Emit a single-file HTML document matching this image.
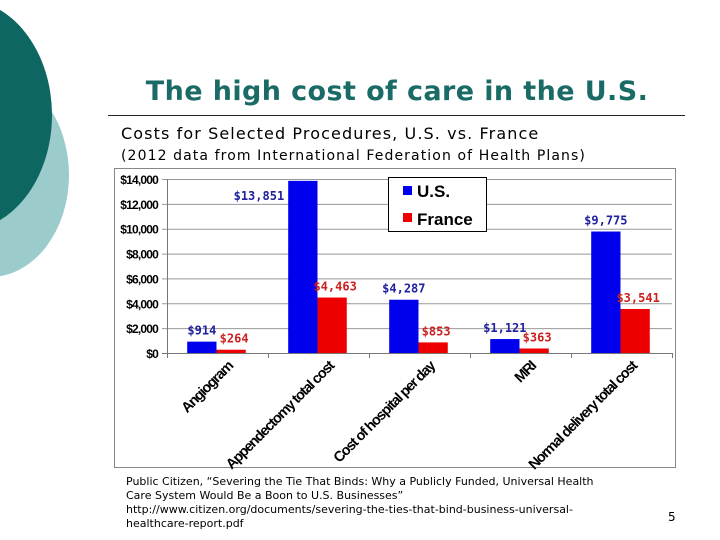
<!DOCTYPE html>
<html><head><meta charset="utf-8"><style>
html,body{margin:0;padding:0;background:#fff;}
svg{display:block;}
</style></head><body>
<svg width="720" height="540" xmlns="http://www.w3.org/2000/svg" font-family="Liberation Sans, sans-serif" id="root">
<ellipse cx="-10" cy="175" rx="79" ry="102" fill="#9ccbcc"/>
<ellipse cx="-38" cy="115" rx="90" ry="116" fill="#0e6663"/>
<text x="397" y="100" text-anchor="middle" font-family="DejaVu Sans, sans-serif" font-weight="bold" font-size="27" fill="#1a6a66" letter-spacing="0.4">The high cost of care in the U.S.</text>
<line x1="108" y1="115.5" x2="685" y2="115.5" stroke="#222" stroke-width="1"/>
<text x="121" y="139" font-family="DejaVu Sans, sans-serif" font-size="16" fill="#000" letter-spacing="1.1">Costs for Selected Procedures, U.S. vs. France</text>
<text x="121" y="160" font-family="DejaVu Sans, sans-serif" font-size="14" fill="#000" letter-spacing="1.1">(2012 data from International Federation of Health Plans)</text>
<rect x="114.5" y="168.5" width="561" height="299" fill="#fff" stroke="#888" stroke-width="1"/>
<g id="chart"></g>
<g>
<rect x="388.5" y="177.5" width="98" height="54" fill="#fff" stroke="#000"/>
<rect x="403" y="186" width="9" height="9" fill="#0000ee"/>
<text x="417" y="197" font-size="17" font-weight="bold" fill="#000">U.S.</text>
<rect x="403" y="213" width="9" height="9" fill="#ee0000"/>
<text x="417" y="225" font-size="17" font-weight="bold" fill="#000">France</text>
</g>
<g font-family="DejaVu Sans, sans-serif" font-size="11" fill="#000">
<text x="126" y="485">Public Citizen, “Severing the Tie That Binds: Why a Publicly Funded, Universal Health</text>
<text x="126" y="499">Care System Would Be a Boon to U.S. Businesses”</text>
<text x="126" y="513">http://www.citizen.org/documents/severing-the-ties-that-bind-business-universal-</text>
<text x="126" y="527">healthcare-report.pdf</text>
</g>
<text x="668" y="521" font-family="DejaVu Sans, sans-serif" font-size="12" fill="#000">5</text>
</svg>
<script>
const categories=["Angiogram","Appendectomy total cost","Cost of hospital per day","MRI","Normal delivery total cost"];
const usValues=[914,13851,4287,1121,9775];
const franceValues=[264,4463,853,363,3541];
const tickValues=[0,2000,4000,6000,8000,10000,12000,14000];
const tickLabels=["$0","$2,000","$4,000","$6,000","$8,000","$10,000","$12,000","$14,000"];
const usLabels=["$914","$13,851","$4,287","$1,121","$9,775"];
const frLabels=["$264","$4,463","$853","$363","$3,541"];
const NS="http://www.w3.org/2000/svg";
const g=document.getElementById('chart');
const X0=167,X1=672,Y0=353,Y1=179,VMAX=14000;
const cw=(X1-X0)/categories.length;
function y(v){return Y0-(v/VMAX)*(Y0-Y1);}
function x(i){return X0+i*cw;}
function el(t,a){const e=document.createElementNS(NS,t);for(const k in a)e.setAttribute(k,a[k]);g.appendChild(e);return e;}
tickValues.forEach((v,i)=>{
  const l=el('line',{x1:X0-5,x2:X1,y1:y(v)+.5,y2:y(v)+.5,stroke:i==0?'#777':'#999','stroke-width':1});
  
  
  const t=el('text',{x:X0-9,y:y(v)+5,'text-anchor':'end','font-size':12,'font-weight':'bold',fill:'#000','letter-spacing':'-0.8'});
  t.textContent=tickLabels[i];
  
  
});
const ax=el('line',{x1:X0+.5,x2:X0+.5,y1:Y1,y2:Y0+5,stroke:'#777'});


const bw=cw*0.29,off=cw*0.2;
categories.forEach((c,i)=>{
  const tk=el('line',{x1:x(i+1)+.5,x2:x(i+1)+.5,y1:Y0,y2:Y0+5,stroke:'#777'});
  
  
  const bu=el('rect',{x:x(i)+off,y:y(usValues[i]),width:bw,height:Y0-y(usValues[i]),fill:'#0000ee'});
  
  
  const bf=el('rect',{x:x(i)+off+bw,y:y(franceValues[i]),width:bw,height:Y0-y(franceValues[i]),fill:'#ee0000'});
  
  
  let ly=y(usValues[i])-7, lx=x(i)+off+bw/2, anc='middle';
  if(ly<Y1+8){ly=Y1+21;lx=x(i)+off-4;anc='end';}
  const lu=el('text',{x:lx,y:ly,'text-anchor':anc,'font-family':'DejaVu Sans Mono, monospace','font-size':12,'font-weight':'bold',fill:'#2020a0'});
  lu.textContent=usLabels[i];
  
  
  const lf=el('text',{x:x(i)+off+bw*1.5+3,y:y(franceValues[i])-7,'text-anchor':'middle','font-family':'DejaVu Sans Mono, monospace','font-size':12,'font-weight':'bold',fill:'#cc2020'});
  lf.textContent=frLabels[i];
  
  
  const cx=x(i)+cw*0.66;
  const ct=el('text',{x:cx,y:Y0+14,'text-anchor':'end','font-size':14.5,'font-weight':'bold',fill:'#000','letter-spacing':'-1.2',transform:`rotate(-45 ${cx} ${Y0+14})`});
  ct.textContent=c;
  
  
});
</script>
</body></html>
